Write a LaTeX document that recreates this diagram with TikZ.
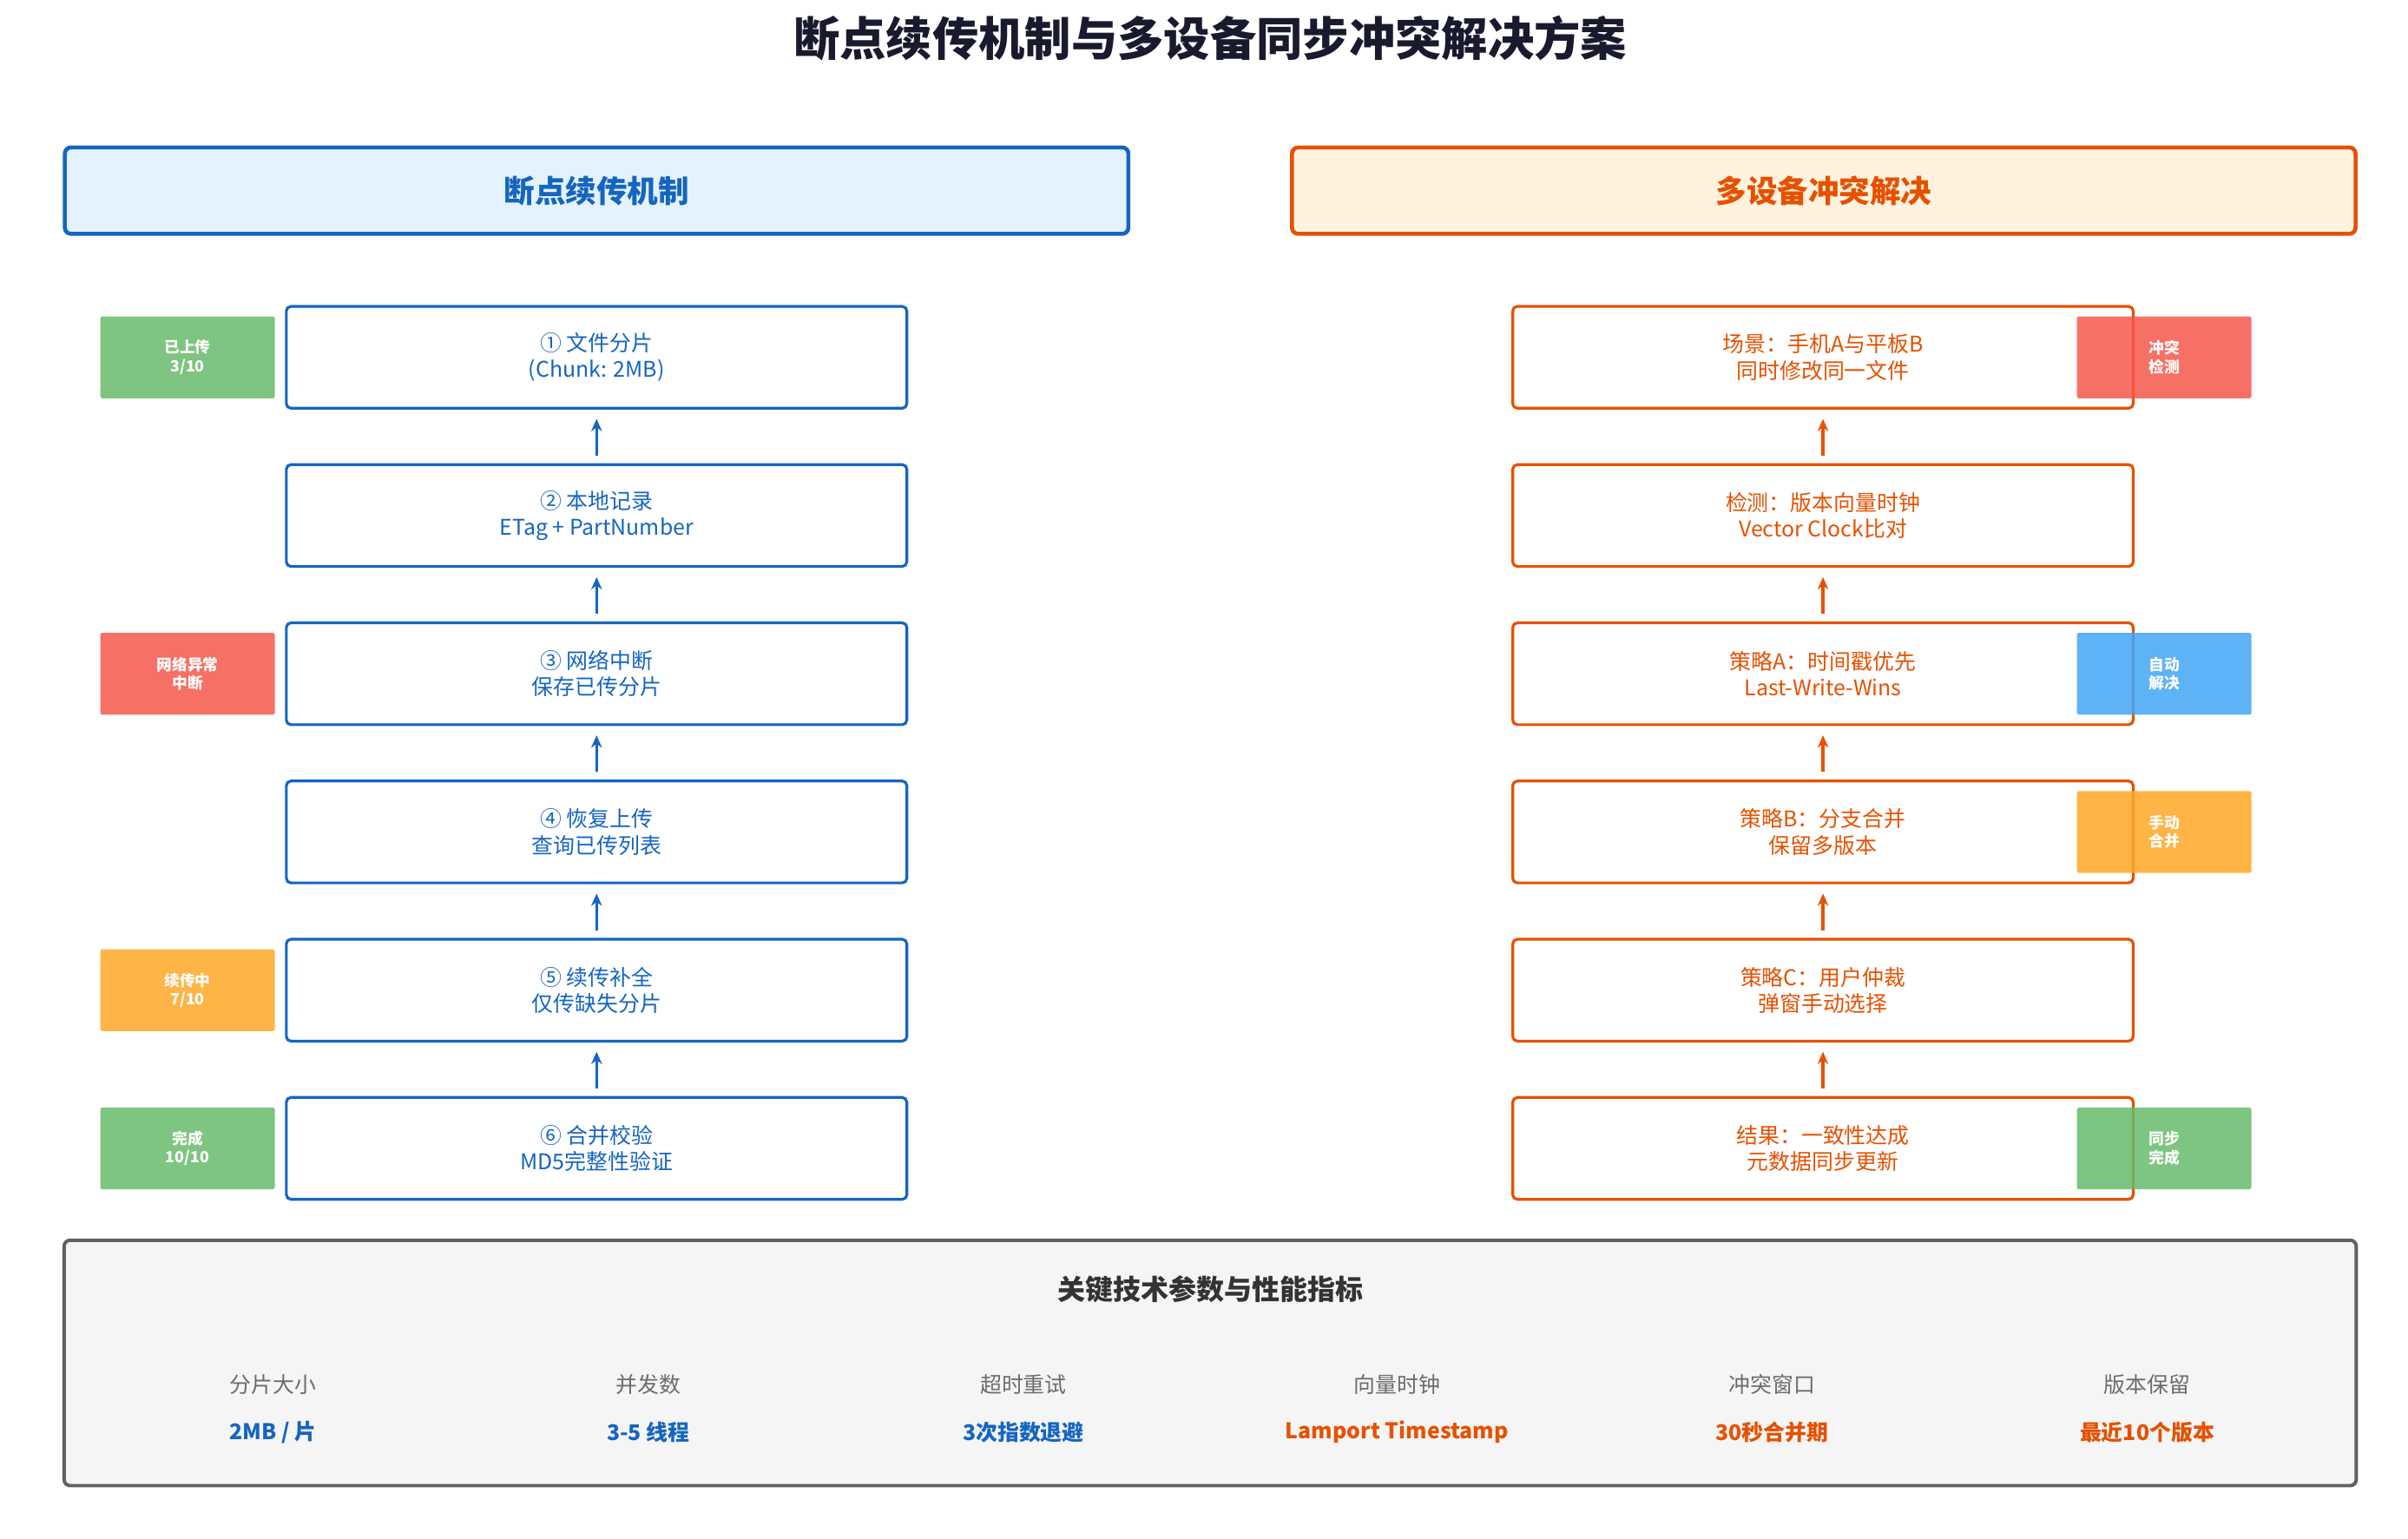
\documentclass[tikz,border=0pt]{standalone}
\usepackage{fontspec}
\setmainfont{Noto Sans CJK SC}
\usetikzlibrary{arrows.meta}
\definecolor{cb}{HTML}{1565C0}
\definecolor{co}{HTML}{E65100}
\definecolor{fb}{HTML}{E3F2FD}
\definecolor{fo}{HTML}{FFF3E0}
\definecolor{tg}{HTML}{66BB6A}
\definecolor{tr}{HTML}{F4574B}
\definecolor{ty}{HTML}{FFA726}
\definecolor{tb}{HTML}{42A5F5}
\definecolor{dk}{HTML}{1A1A2E}
\begin{document}
\begin{tikzpicture}[x=0.5pt,y=-0.5pt,
 box/.style={draw,line width=0.9pt,rounded corners=1.5pt,minimum width=201pt,minimum height=33pt,align=center,font=\fontsize{7}{8.5}\selectfont,fill=white},
 lb/.style={box,draw=cb,text=cb},
 rb/.style={box,draw=co,text=co},
 hd/.style={draw,line width=1.3pt,rounded corners=2pt,minimum width=344.5pt,minimum height=28pt,font=\fontsize{10}{12}\selectfont\bfseries},
 tag/.style={fill opacity=0.85,text opacity=1,rounded corners=0.5pt,minimum width=56.5pt,minimum height=26.5pt,align=center,text=white,font=\fontsize{5}{6}\selectfont\bfseries},
 ar/.style={-{Stealth[length=4pt,width=3.5pt]},line width=1pt},
 pl/.style={text=gray!85!black,font=\fontsize{7}{8}\selectfont},
 pv/.style={font=\fontsize{7}{8}\selectfont\bfseries}]
\useasboundingbox (0,0) rectangle (1560,997);
\node[font=\fontsize{15}{18}\selectfont\bfseries,text=dk] (title) at (784,25) {断点续传机制与多设备同步冲突解决方案};
\node[hd,draw=cb,fill=fb,text=cb] (hl) at (386.5,123.5) {断点续传机制};
\node[hd,draw=co,fill=fo,text=co] (hr) at (1181.5,123.5) {多设备冲突解决};
% left column
\node[lb] (l1) at (386.5,231.5) {① 文件分片\\(Chunk: 2MB)};
\node[lb] (l2) at (386.5,334) {② 本地记录\\ETag + PartNumber};
\node[lb] (l3) at (386.5,436.5) {③ 网络中断\\保存已传分片};
\node[lb] (l4) at (386.5,539) {④ 恢复上传\\查询已传列表};
\node[lb] (l5) at (386.5,641.5) {⑤ 续传补全\\仅传缺失分片};
\node[lb] (l6) at (386.5,744) {⑥ 合并校验\\MD5完整性验证};
\foreach \a/\b in {l2/l1,l3/l2,l4/l3,l5/l4,l6/l5}\draw[ar,cb] ([yshift=2.5pt]\a.north) -- ([yshift=-3pt]\b.south);
\node[tag,fill=tg] (t1) at (121.5,231.5) {已上传\\3/10};
\node[tag,fill=tr] (t3) at (121.5,436.5) {网络异常\\中断};
\node[tag,fill=ty] (t5) at (121.5,641.5) {续传中\\7/10};
\node[tag,fill=tg] (t6) at (121.5,744) {完成\\10/10};
% right column
\node[rb] (r1) at (1181,231.5) {场景：手机A与平板B\\同时修改同一文件};
\node[rb] (r2) at (1181,334) {检测：版本向量时钟\\Vector Clock比对};
\node[rb] (r3) at (1181,436.5) {策略A：时间戳优先\\Last-Write-Wins};
\node[rb] (r4) at (1181,539) {策略B：分支合并\\保留多版本};
\node[rb] (r5) at (1181,641.5) {策略C：用户仲裁\\弹窗手动选择};
\node[rb] (r6) at (1181,744) {结果：一致性达成\\元数据同步更新};
\foreach \a/\b in {r2/r1,r3/r2,r4/r3,r5/r4,r6/r5}\draw[ar,co] ([yshift=2.5pt]\a.north) -- ([yshift=-3pt]\b.south);
\node[tag,fill=tr] (s1) at (1402,231.5) {冲突\\检测};
\node[tag,fill=tb] (s3) at (1402,436.5) {自动\\解决};
\node[tag,fill=ty] (s4) at (1402,539) {手动\\合并};
\node[tag,fill=tg] (s6) at (1402,744) {同步\\完成};
% bottom panel
\node[draw=gray!75!black,line width=1.1pt,fill=gray!8,rounded corners=2pt,minimum width=742.5pt,minimum height=79.5pt] (pan) at (784,883) {};
\node[font=\fontsize{9}{11}\selectfont\bfseries,text=black!80] (pt) at (784,835) {关键技术参数与性能指标};
\node[pl] (p1) at (177,897) {分片大小}; \node[pv,text=cb] (v1) at (177,928) {2MB / 片};
\node[pl] (p2) at (420,897) {并发数}; \node[pv,text=cb] (v2) at (420,928) {3-5 线程};
\node[pl] (p3) at (663,897) {超时重试}; \node[pv,text=cb] (v3) at (663,928) {3次指数退避};
\node[pl] (p4) at (905,897) {向量时钟}; \node[pv,text=co] (v4) at (905,928) {Lamport Timestamp};
\node[pl] (p5) at (1148,897) {冲突窗口}; \node[pv,text=co] (v5) at (1148,928) {30秒合并期};
\node[pl] (p6) at (1391,897) {版本保留}; \node[pv,text=co] (v6) at (1391,928) {最近10个版本};
\end{tikzpicture}
\end{document}
